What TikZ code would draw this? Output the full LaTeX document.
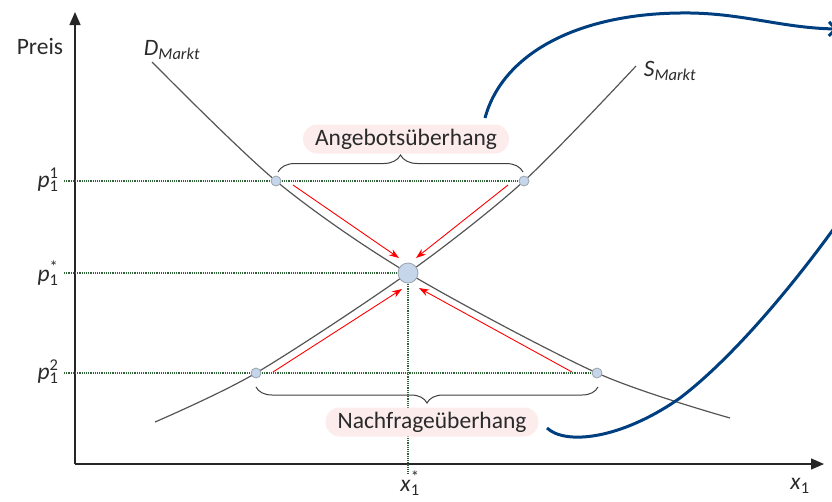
\documentclass[tikz,border=0pt]{standalone}
\usepackage{fontspec}
\setmainfont{Carlito}
\usetikzlibrary{arrows.meta,decorations.pathreplacing}

\definecolor{kurvgrau}{HTML}{555555}
\definecolor{hilfgruen}{HTML}{2F6438}
\definecolor{punktblau}{HTML}{C5D5EA}
\definecolor{punktrand}{HTML}{9AA3AE}
\definecolor{klammergrau}{HTML}{404040}
\definecolor{rosa}{HTML}{FCECEC}
\definecolor{blaubogen}{HTML}{003F7F}
\definecolor{schrift}{HTML}{2A2A2A}

\newcommand\plabel[1]{\textit{p}\rlap{\textsuperscript{#1}}\textsubscript{1}}

\begin{document}
\begin{tikzpicture}[x=1pt,y=-1pt,
    font=\fontsize{23.5}{26}\selectfont,
    achse/.style={-{Triangle[length=13pt,width=11pt]},line width=1.3pt,black!85},
    kurve/.style={line width=1.2pt,kurvgrau},
    hilfs/.style={densely dotted,line width=1.2pt,hilfgruen},
    pfeil/.style={-{Stealth[length=10pt,width=7pt]},line width=0.9pt,red},
    punkt/.style={circle,draw=punktrand,fill=punktblau,line width=0.8pt,minimum size=10pt,inner sep=0pt},
    klammer/.style={decorate,decoration={brace,amplitude=17pt},line width=1pt,klammergrau},
    etikett/.style={rounded corners=14pt,fill=rosa,minimum height=29pt,inner xsep=12pt,text=schrift},
    bogen/.style={line width=3pt,blaubogen},
    txt/.style={text=schrift}]
\useasboundingbox (0,0) rectangle (832,501);

% Achsen
\coordinate (ursprung) at (75,464);
\coordinate (yspitze) at (75,12);
\coordinate (xspitze) at (824,464);
\draw[achse] (ursprung) -- (yspitze);
\draw[achse] (ursprung) -- (xspitze);

\node[txt] (preis) at (40,46) {Preis};
\node[txt] (xlab) at (800,486) {\textit{x}\textsubscript{1}};

% Nachfrage- und Angebotskurve
\coordinate (d0) at (152,62);
\coordinate (d1) at (276,181);
\coordinate (gg) at (408,273);
\coordinate (d3) at (597,373);
\coordinate (d4) at (730,418);
\coordinate (s0) at (155,422);
\coordinate (s1) at (256,373);
\coordinate (s3) at (524,181);
\coordinate (s4) at (636,66);
\draw[kurve] plot[smooth] coordinates {(d0) (d1) (gg) (d3) (d4)};
\draw[kurve] plot[smooth] coordinates {(s0) (s1) (gg) (s3) (s4)};

\node[txt] (dlab) at (172,50) {\textit{D\textsubscript{Markt}}};
\node[txt] (slab) at (670,71) {\textit{S\textsubscript{Markt}}};

% Hilfslinien
\coordinate (h1) at (64,181);
\coordinate (h2) at (64,273);
\coordinate (h3) at (64,373);
\coordinate (hx) at (408,474);
\draw[hilfs] (h1) -- (s3);
\draw[hilfs] (h2) -- (gg);
\draw[hilfs] (h3) -- (d3);
\draw[hilfs] (gg) -- (hx);

\node[txt] (p1) at (48,180) {\plabel{1}};
\node[txt] (pstern) at (48,273) {\plabel{*}};
\node[txt] (p2) at (48,372) {\plabel{2}};
\node[txt] (xstern) at (410,483) {\textit{x}\rlap{\textsuperscript{*}}\textsubscript{1}};

% Anpassungspfeile
\coordinate (ro1) at (293,185);
\coordinate (ro2) at (399,258);
\coordinate (ro3) at (508,185);
\coordinate (ro4) at (416,258);
\coordinate (ru1) at (273,372);
\coordinate (ru2) at (402,289);
\coordinate (ru3) at (572,372);
\coordinate (ru4) at (419,288);
\draw[pfeil] (ro1) -- (ro2);
\draw[pfeil] (ro3) -- (ro4);
\draw[pfeil] (ru1) -- (ru2);
\draw[pfeil] (ru3) -- (ru4);

% Punkte
\node[punkt] (q1) at (d1) {};
\node[punkt] (q2) at (s3) {};
\node[punkt] (q3) at (s1) {};
\node[punkt] (q4) at (d3) {};
\node[punkt,minimum size=20pt] (gleich) at (gg) {};

% Klammern und Etiketten
\coordinate (ko1) at (278,172);
\coordinate (ko2) at (523,172);
\coordinate (ku1) at (598,387);
\coordinate (ku2) at (256,387);
\draw[klammer] (ko1) -- (ko2);
\draw[klammer,decoration={amplitude=16pt}] (ku1) -- (ku2);

\node[etikett] (angebot) at (406,139) {Angebotsüberhang};
\node[etikett] (nachfrage) at (432,422) {Nachfrageüberhang};

% blaue Boegen
\coordinate (b1) at (485,118);
\coordinate (rausoben) at (838,29);
\coordinate (b2) at (547,428);
\coordinate (rausrechts) at (840,220);
\draw[bogen,-{Straight Barb[length=7pt,width=14pt]}] (b1) .. controls (503,52) and (580,14) .. (680,13) .. controls (740,12) and (780,28) .. (rausoben);
\draw[bogen] (b2) .. controls (565,445) and (620,440) .. (680,398) .. controls (730,360) and (790,290) .. (rausrechts);
\end{tikzpicture}
\end{document}
